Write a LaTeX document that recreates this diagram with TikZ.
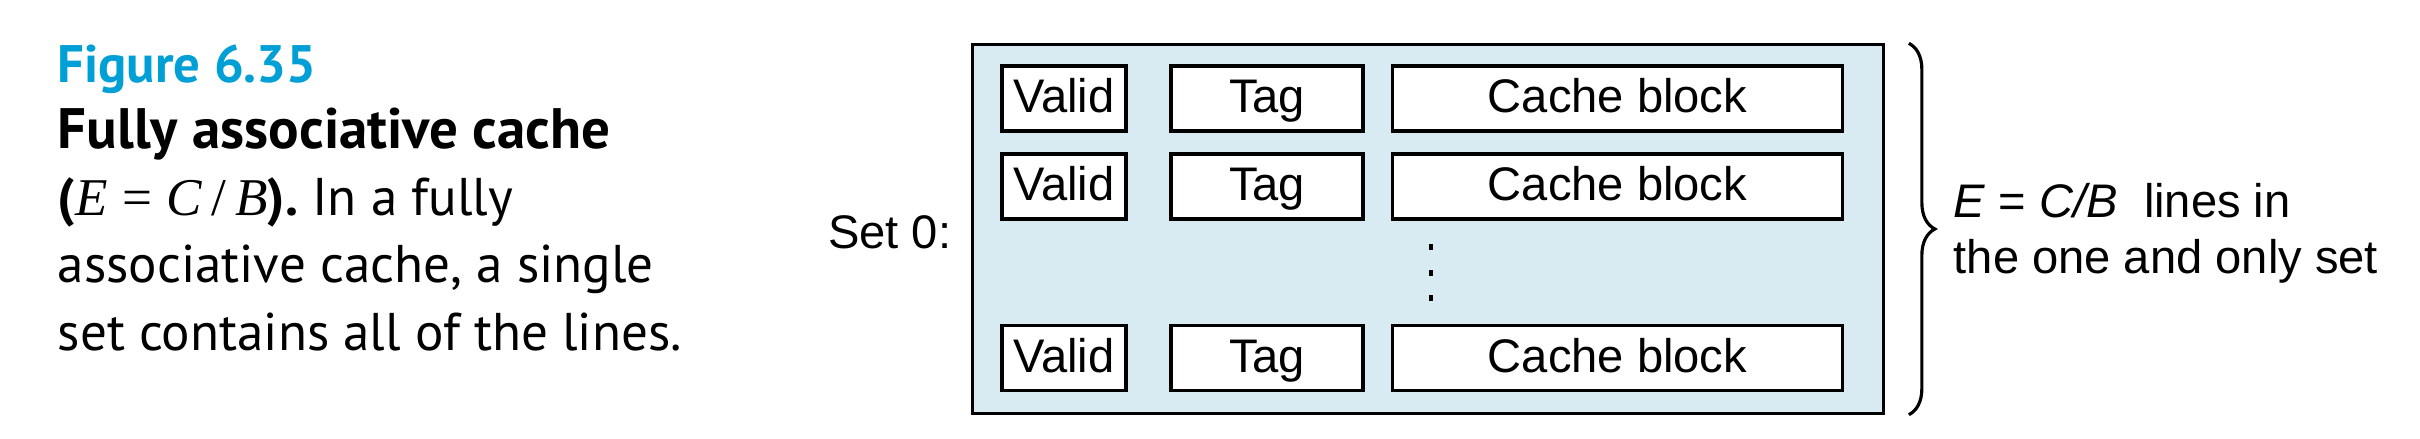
\documentclass[tikz,border=0pt]{standalone}
\usepackage{fontspec}
\setmainfont{PT Sans}
\newfontfamily\helv{Liberation Sans}
\newfontfamily\tms{Liberation Serif}
\usetikzlibrary{decorations.pathreplacing}
\definecolor{figblue}{RGB}{0,160,214}
\definecolor{setblue}{RGB}{216,235,242}

\begin{document}
\begin{tikzpicture}[x=0.01cm,y=-0.01cm,
	field/.style={draw,line width=0.9pt,fill=white,inner sep=0pt,minimum height=0.65cm,
		font=\helv\fontsize{13.4}{16}\selectfont,text height=10pt,text depth=1.8pt},
	valid/.style={field,minimum width=1.24cm},
	tag/.style={field,minimum width=1.92cm},
	block/.style={field,minimum width=4.49cm},
	diag/.style={inner sep=0pt,font=\helv\fontsize{13.4}{15.65}\selectfont}]
	\useasboundingbox (0,0) rectangle (2420,438);
	% Caption (base of a multi-line node = its last line)
	\node[anchor=base west,inner sep=0pt,text=figblue,
		font=\bfseries\fontsize{15}{19.06}\selectfont] (fig) at (57,82) {Figure 6.35};
	\node[anchor=base west,inner sep=0pt,align=left,
		font=\fontsize{15.1}{19.06}\selectfont] (cap) at (57,350)
		{{\bfseries\fontsize{16.2}{19.06}\selectfont Fully associative cache}\\
		\textbf{(}{\tms\textit{E}\;=\;\textit{C}\,/\,\textit{B}}\textbf{).} In a fully\\
		associative cache, a single\\
		set contains all of the lines.};
	% Set
	\node[draw,line width=0.9pt,fill=setblue,inner sep=0pt,
		minimum width=9.1cm,minimum height=3.68cm] (set) at (1428,229) {};
	\node[diag,anchor=base east] (setname) at (952,248) {Set 0:};
	% Lines
	\foreach \r/\y in {1/98.5,2/186.5,3/358} {
		\node[valid] (v\r) at (1064,\y) {Valid};
		\node[tag] (t\r) at (1267,\y) {Tag};
		\node[block] (b\r) at (1617.5,\y) {Cache block};
	}
	% Dots
	\foreach \y in {247,273,298}
		\fill (1429,\y-3) rectangle (1433,\y+3);
	% Brace
	\draw[line width=0.9pt,decorate,decoration={brace,amplitude=0.26cm}]
		([xshift=0.24cm]set.north east) -- ([xshift=0.24cm]set.south east);
	\node[diag,anchor=base west,align=left] (count) at (1953,273)
		{\textit{E} = \textit{C/B}\ \ lines in\\the one and only set};
\end{tikzpicture}
\end{document}
